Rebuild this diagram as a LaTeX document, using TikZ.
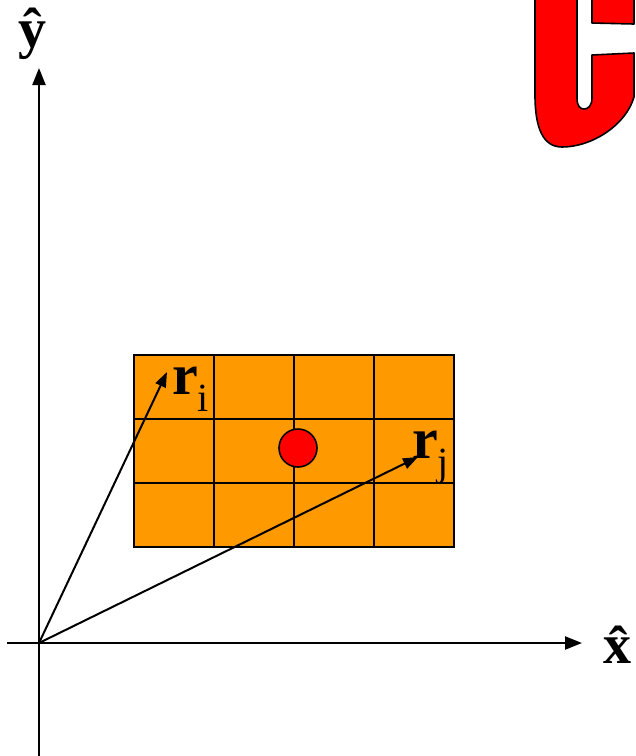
\documentclass[tikz,border=0pt]{standalone}
\usepackage{fontspec}
\setmainfont{Liberation Serif}
\usetikzlibrary{arrows.meta}
\definecolor{cellorange}{HTML}{FF9900}
\definecolor{cred}{HTML}{FF0000}
\tikzset{
  axis/.style={line width=2.2pt,-{Triangle[length=17pt,width=13pt]}},
  vec/.style={line width=2pt,-{Triangle[length=15pt,width=11pt]}},
  gridline/.style={line width=2.8pt,black},
  cellbox/.style={fill=cellorange,draw=black,line width=2.8pt,minimum width=320pt,minimum height=192pt,inner sep=0pt},
  reddot/.style={circle,fill=cred,draw=black,line width=1.6pt,minimum size=38pt,inner sep=0pt},
  cshape/.style={fill=cred,draw=black,line width=1.6pt,line join=round},
  axlabel/.style={font=\fontsize{56}{56}\selectfont\bfseries,inner sep=0pt},
  veclabel/.style={inner sep=0pt,anchor=base west},
}
\newcommand{\vlab}[2]{{\fontsize{58}{58}\selectfont\bfseries #1}\raisebox{-17pt}{\fontsize{40}{40}\selectfont #2}}
\begin{document}
\begin{tikzpicture}[x=1pt,y=-1pt]
\useasboundingbox (0,0) rectangle (636,756);
% red letter shape, cut at the picture edge
\begin{scope}
\clip (0,0) rectangle (636,756);
\path[cshape] (535,-5) -- (535,95) .. controls (535,128) and (543,147) .. (562,147)
  .. controls (592,147) and (626,125) .. (634,97) -- (634,53) -- (592,55) -- (592,98)
  .. controls (592,106) and (588,109) .. (584,109) .. controls (580,109) and (577,106) .. (577,98)
  -- (577,-5) -- cycle;
\path[cshape] (592,-5) -- (592,23) -- (634,24) -- (634,-5) -- cycle;
\end{scope}
% grid
\node[cellbox] (cells) at (294,451) {};
\foreach \x in {214,294,374} \draw[gridline] (\x,355) -- (\x,547);
\foreach \y in {419,483} \draw[gridline] (134,\y) -- (454,\y);
\node[reddot] (dot) at (298,448) {};
% axes
\coordinate (O) at (39,643);
\coordinate (xs) at (7,643);
\coordinate (xe) at (582,643);
\coordinate (ys) at (39,760);
\coordinate (ye) at (39,68);
\draw[axis] (xs) -- (xe);
\draw[axis] (ys) -- (ye);
% vectors
\coordinate (ri) at (167,372);
\coordinate (rj) at (418,457);
\draw[vec] (O) -- (ri);
\draw[vec] (O) -- (rj);
% labels
\node[axlabel,anchor=base] (ylab) at (33,47) {\^y};
\node[axlabel,anchor=base] (xlab) at (617,663) {\^x};
\node[veclabel] (rilab) at (172,394) {\vlab{r}{i}};
\node[veclabel] (rjlab) at (412,458) {\vlab{r}{j}};
\end{tikzpicture}
\end{document}
